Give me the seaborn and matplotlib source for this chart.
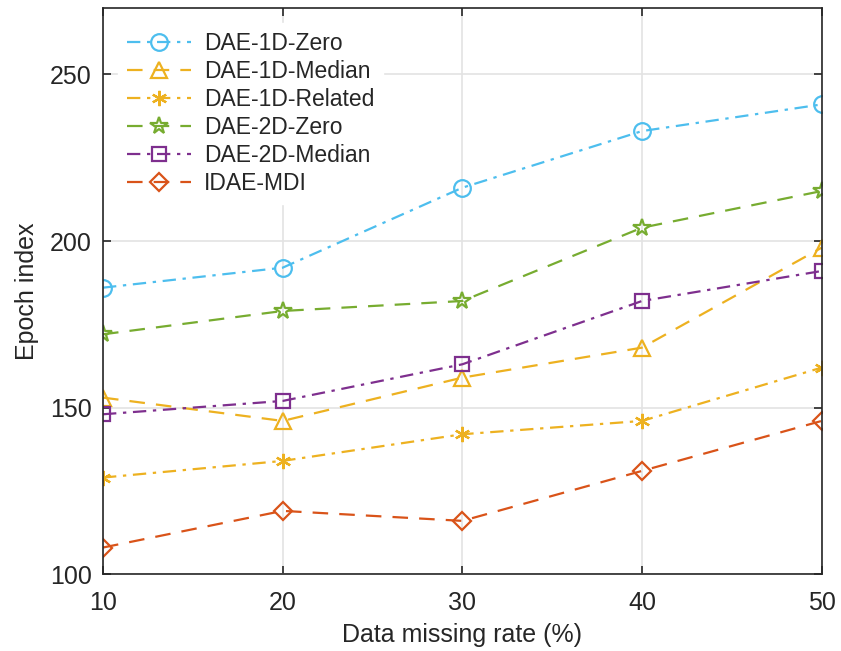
import numpy as np
import pandas as pd
import matplotlib
matplotlib.use("Agg")
import matplotlib.pyplot as plt
import seaborn as sns

rates = [10, 20, 30, 40, 50]
dae1d_zero = [186, 192, 216, 233, 241]
dae1d_median = [153, 146, 159, 168, 198]
dae1d_related = [129, 134, 142, 146, 162]
dae2d_zero = [172, 179, 182, 204, 215]
dae2d_median = [148, 152, 163, 182, 191]
idae_mdi = [108, 119, 116, 131, 146]

names = ["DAE-1D-Zero", "DAE-1D-Median", "DAE-1D-Related",
         "DAE-2D-Zero", "DAE-2D-Median", "IDAE-MDI"]
values = [dae1d_zero, dae1d_median, dae1d_related, dae2d_zero, dae2d_median, idae_mdi]
colors = ["#4DBEEE", "#EDB120", "#EDB120", "#77AC30", "#7E2F8E", "#D95319"]
markers = ["o", "^", (6, 2, 0), "*", "s", "D"]
dashdot = (0, (6, 3, 1.5, 3))
dashed = (0, (7, 5))
styles = [dashdot, dashed, dashdot, dashed, dashdot, dashed]
msizes = [12, 12, 11, 13, 10, 9]

sns.set_theme(style="white")
plt.rcParams['font.family'] = ['Liberation Sans', 'DejaVu Sans']

fig = plt.figure(figsize=(8.41, 6.51), dpi=100)
ax = fig.add_axes([0.1225, 0.118, 0.8545, 0.870])

for name, vals, c, m, ls, ms in zip(names, values, colors, markers, styles, msizes):
    df = pd.DataFrame({"rate": rates, "epoch": vals})
    sns.lineplot(data=df, x="rate", y="epoch", ax=ax, color=c, linestyle=ls,
                 linewidth=1.6, marker=m, markersize=ms, markerfacecolor="none",
                 markeredgecolor=c, markeredgewidth=1.6, label=name)

ax.set_xlim(10, 50)
ax.set_ylim(100, 270)
ax.set_xticks([10, 20, 30, 40, 50])
ax.set_yticks([100, 150, 200, 250])
ax.grid(True, color="#e3e3e3", linewidth=1.2)
ax.set_axisbelow(True)
for s in ax.spines.values():
    s.set_color("#262626")
    s.set_linewidth(1.2)
ax.tick_params(direction="in", length=6, width=1.2, color="#262626",
               labelsize=18, top=True, right=True, bottom=True, left=True)
ax.tick_params(axis="y", pad=8)
ax.tick_params(axis="x", pad=12)
ax.set_xlabel("Data missing rate (%)", fontsize=18, labelpad=6)
ax.set_ylabel("Epoch index", fontsize=18, labelpad=8)

leg = ax.legend(loc="upper left", fontsize=16.5, frameon=True, handlelength=2.8,
                labelspacing=0.22, borderaxespad=0.65, handletextpad=0.55,
                borderpad=0.4)
leg.get_frame().set_edgecolor("white")
leg.get_frame().set_facecolor("white")
leg.get_frame().set_alpha(1)
leg.get_frame().set_boxstyle("square", pad=0)

fig.savefig("out.png", dpi=100)
